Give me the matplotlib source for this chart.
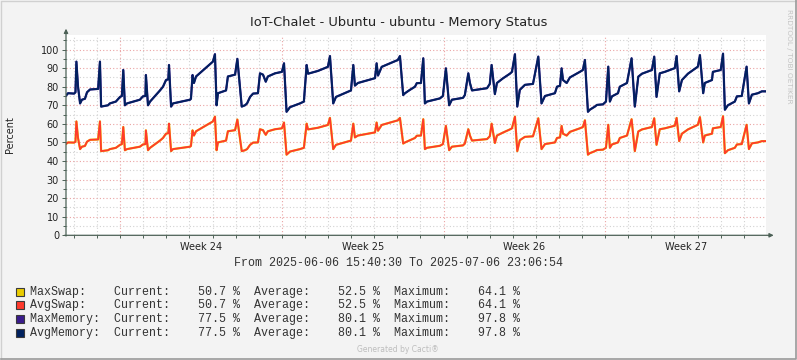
import datetime as dt
import matplotlib
matplotlib.use('Agg')
import matplotlib.pyplot as plt
from matplotlib.lines import Line2D
from matplotlib.patches import Rectangle

# --- data ---
start = dt.datetime(2025, 6, 6, 15, 40, 30)
end = dt.datetime(2025, 7, 6, 23, 6, 54)

# sample times in days since start
t_days = [0.00, 0.09, 0.35, 0.41, 0.45, 0.52, 0.61, 0.69, 0.82, 0.91,
          1.04, 1.39, 1.47, 1.52, 1.82, 1.90, 2.16, 2.34, 2.42, 2.48,
          2.55, 2.64, 3.20, 3.33, 3.44, 3.46, 3.55, 3.64, 4.07, 4.20,
          4.33, 4.43, 4.46, 4.55, 4.63, 5.37, 5.41, 5.48, 5.54, 5.63,
          6.36, 6.45, 6.52, 6.58, 6.93, 7.01, 7.32, 7.42, 7.61, 7.75,
          7.84, 7.97, 8.10, 8.31, 8.40, 8.53, 8.65, 8.74, 9.05, 9.35,
          9.44, 9.55, 9.70, 10.13, 10.30, 10.42, 10.48, 10.91, 11.34, 11.43,
          11.57, 11.69, 12.34, 12.44, 12.51, 12.64, 13.38, 13.45, 13.51, 13.67,
          14.37, 14.46, 14.60, 14.68, 14.89, 15.11, 15.19, 15.37, 15.47, 15.54,
          15.63, 16.19, 16.32, 16.45, 16.59, 16.71, 17.19, 17.27, 17.42, 17.49,
          17.58, 18.23, 18.35, 18.43, 18.57, 18.66, 18.92, 19.22, 19.31, 19.44,
          19.54, 19.65, 19.87, 20.22, 20.45, 20.59, 20.74, 21.17, 21.26, 21.39,
          21.46, 21.52, 21.68, 21.82, 22.25, 22.38, 22.47, 22.60, 22.68, 22.90,
          22.99, 23.25, 23.38, 23.48, 23.55, 23.64, 23.90, 23.98, 24.29, 24.49,
          24.63, 24.78, 24.94, 25.37, 25.47, 25.57, 25.71, 25.93, 26.36, 26.44,
          26.55, 26.67, 26.93, 27.36, 27.45, 27.59, 27.66, 27.97, 28.01, 28.35,
          28.45, 28.53, 28.66, 28.96, 29.05, 29.26, 29.47, 29.57, 29.70, 29.96,
          30.13, 30.31]

avg_memory = [75.2, 76.5, 76.3, 77.0, 93.5, 80.0, 71.0, 73.0, 73.5, 77.0,
              78.5, 78.8, 93.5, 69.3, 70.0, 71.0, 72.0, 74.5, 75.0, 89.0,
              70.0, 71.0, 73.0, 74.8, 75.0, 86.3, 70.0, 72.0, 78.0, 80.0,
              83.6, 84.0, 91.7, 69.3, 71.0, 73.0, 73.5, 86.3, 82.0, 85.5,
              93.5, 97.5, 70.0, 76.5, 78.0, 85.5, 86.5, 95.0, 69.3, 70.0,
              71.0, 74.5, 76.3, 76.5, 87.2, 86.5, 82.7, 85.5, 87.2, 88.0,
              92.6, 66.5, 69.0, 71.0, 72.0, 91.7, 87.0, 88.5, 90.7, 96.5,
              71.0, 74.5, 78.0, 91.7, 80.6, 82.0, 84.6, 92.6, 86.0, 90.7,
              94.4, 96.5, 75.5, 76.5, 78.3, 80.0, 81.9, 82.0, 95.3, 71.0,
              72.0, 73.7, 75.0, 89.9, 70.0, 73.0, 74.0, 75.5, 87.2, 82.0,
              78.0, 79.2, 81.5, 91.7, 76.0, 82.0, 84.5, 87.0, 88.0, 97.5,
              69.3, 78.3, 81.0, 81.5, 96.2, 71.0, 75.0, 76.5, 80.0, 80.5,
              89.9, 83.6, 82.0, 85.0, 88.0, 89.0, 94.4, 66.5, 67.6, 69.3,
              70.2, 70.5, 72.0, 90.8, 72.0, 74.8, 76.5, 80.0, 82.0, 95.3,
              69.3, 85.4, 87.0, 89.0, 96.2, 74.5, 87.2, 88.0, 90.0, 96.5,
              77.5, 83.6, 87.0, 90.8, 97.0, 76.5, 82.0, 83.6, 88.0, 89.0,
              97.8, 67.6, 70.0, 72.0, 74.8, 75.0, 90.8, 71.0, 75.7, 76.5,
              77.5, 77.5]

avg_swap = [49.2, 50.0, 49.9, 50.4, 61.3, 52.4, 46.4, 47.7, 48.1, 50.4,
            51.4, 51.6, 61.3, 45.3, 45.8, 46.4, 47.1, 48.7, 49.1, 58.3,
            45.8, 46.4, 47.7, 48.9, 49.1, 56.5, 45.8, 47.1, 51.0, 52.4,
            54.7, 55.0, 60.1, 45.3, 46.4, 47.7, 48.1, 56.5, 53.7, 56.0,
            61.3, 63.9, 45.8, 50.0, 51.0, 56.0, 56.6, 62.3, 45.3, 45.8,
            46.4, 48.7, 49.9, 50.0, 57.1, 56.6, 54.1, 56.0, 57.1, 57.6,
            60.7, 43.4, 45.1, 46.4, 47.1, 60.1, 57.0, 57.9, 59.4, 63.2,
            46.4, 48.7, 51.0, 60.1, 52.7, 53.7, 55.4, 60.7, 56.3, 59.4,
            61.9, 63.2, 49.4, 50.0, 51.2, 52.4, 53.6, 53.7, 62.5, 46.4,
            47.1, 48.2, 49.1, 58.9, 45.8, 47.7, 48.4, 49.4, 57.1, 53.7,
            51.0, 51.8, 53.3, 60.1, 49.7, 53.7, 55.3, 57.0, 57.6, 63.9,
            45.3, 51.2, 53.0, 53.3, 63.0, 46.4, 49.1, 50.0, 52.4, 52.7,
            58.9, 54.7, 53.7, 55.7, 57.6, 58.3, 61.9, 43.4, 44.2, 45.3,
            45.9, 46.1, 47.1, 59.5, 47.1, 48.9, 50.0, 52.4, 53.7, 62.5,
            45.3, 55.9, 57.0, 58.3, 63.0, 48.7, 57.1, 57.6, 59.0, 63.2,
            50.7, 54.7, 57.0, 59.5, 63.6, 50.0, 53.7, 54.7, 57.6, 58.3,
            64.1, 44.2, 45.8, 47.1, 48.9, 49.1, 59.5, 46.4, 49.5, 50.0,
            50.7, 50.7]

# max series equal the averages over this period
max_memory = avg_memory
max_swap = avg_swap

series_names = ['MaxSwap:', 'AvgSwap:', 'MaxMemory:', 'AvgMemory:']
series_current = [50.7, 50.7, 77.5, 77.5]
series_average = [52.5, 52.5, 80.1, 80.1]
series_maximum = [64.1, 64.1, 97.8, 97.8]
series_colors = ['#EACC00', '#FF3A2C', '#3A1C8C', '#00215E']

week_numbers = [24, 25, 26, 27]
title = 'IoT-Chalet - Ubuntu - ubuntu - Memory Status'

# --- figure ---
W, H = 797, 360
bg = '#f3f3f3'
axis_c = '#4c6156'
minor_c = '#d2d2d2'
major_c = '#eaa3a3'
text_c = '#222222'

fig = plt.figure(figsize=(W / 100, H / 100), dpi=100, facecolor=bg)
ax = fig.add_axes([66 / W, 1 - 235.3 / H, 700 / W, 200.6 / H])
ax.set_facecolor('white')

total_days = (end - start).total_seconds() / 86400
ax.set_xlim(0, total_days)
ax.set_ylim(0, 108)

# grid: daily / weekly verticals, 5 / 10 horizontals
first_midnight = dt.datetime(2025, 6, 7)
day_lines = []
d = first_midnight
while d < end:
    day_lines.append((d - start).total_seconds() / 86400)
    d += dt.timedelta(days=1)
week_starts = [dt.datetime.fromisocalendar(2025, w, 1) for w in week_numbers]
week_lines = [(w - start).total_seconds() / 86400 for w in week_starts]
week_mids = [x + 3.5 for x in week_lines]

dots = (0, (1, 2))
for x in day_lines:
    if x not in week_lines:
        ax.axvline(x, color=minor_c, ls=dots, lw=0.8, zorder=0.5)
for x in week_lines:
    ax.axvline(x, color=major_c, ls=dots, lw=0.8, zorder=0.6)
for yv in range(5, 106, 5):
    c = major_c if yv % 10 == 0 else minor_c
    ax.axhline(yv, color=c, ls=dots, lw=0.8, zorder=0.5)

# series
ax.plot(t_days, max_swap, color=series_colors[0], lw=1.6, zorder=2)
ax.plot(t_days, avg_swap, color=series_colors[1], lw=1.3, zorder=3)
ax.plot(t_days, max_memory, color=series_colors[2], lw=1.6, zorder=2)
ax.plot(t_days, avg_memory, color=series_colors[3], lw=1.3, zorder=3)

# axes, ticks
for s in ax.spines.values():
    s.set_visible(False)
ax.set_yticks(range(0, 101, 10))
ax.set_yticks(range(5, 106, 5), minor=True)
ax.set_xticks(week_mids)
ax.set_xticklabels([f'Week {w}' for w in week_numbers])
ax.set_xticks(day_lines, minor=True)
ax.tick_params(axis='y', which='major', length=3, width=0.7, color=axis_c,
               labelsize=7, labelcolor=text_c, pad=2)
ax.tick_params(axis='y', which='minor', length=2, width=0.7, color=axis_c)
ax.tick_params(axis='x', which='major', length=0, labelsize=7,
               labelcolor=text_c, pad=5)
ax.tick_params(axis='x', which='minor', length=2, width=0.7, color=axis_c)

arrow = dict(arrowstyle='-|>', color=axis_c, lw=0.9, mutation_scale=6,
             shrinkA=0, shrinkB=0)
ax.annotate('', xy=(1.011, 0), xytext=(-0.002, 0), xycoords='axes fraction',
            arrowprops=arrow, annotation_clip=False)
ax.annotate('', xy=(0, 1.03), xytext=(0, -0.004), xycoords='axes fraction',
            arrowprops=arrow, annotation_clip=False)

# --- texts ---
fig.text(0.5, 1 - 22.5 / H, title, ha='center', va='center', fontsize=9.4,
         color=text_c)
fig.text(10 / W, 1 - 135 / H, 'Percent', rotation=90, ha='center',
         va='center', fontsize=7, color=text_c)
fig.text(789 / W, 1 - 56 / H, 'RRDTOOL / TOBI OETIKER', rotation=-90,
         ha='center', va='center', fontsize=5.3, color='#c4c4c4')

mono = 'Liberation Mono'
fig.text(398 / W, 1 - 263 / H,
         f"From {start:%Y-%m-%d %H:%M:%S} To {end:%Y-%m-%d %H:%M:%S}",
         ha='center', va='center', fontsize=8.4, family=mono, color='#333333')

row_y = [291.5, 305.3, 319.2, 333.0]
for name, cur, avg, mx, col, y in zip(series_names, series_current,
                                      series_average, series_maximum,
                                      series_colors, row_y):
    fig.add_artist(Rectangle((16 / W, 1 - (y + 4) / H), 8 / W, 8 / H,
                             transform=fig.transFigure, facecolor=col,
                             edgecolor='#3a3a3a', lw=0.8))
    line = f"{name:<12}Current:{cur:8.1f} %  Average:{avg:8.1f} %  Maximum:{mx:8.1f} %"
    fig.text(30 / W, 1 - y / H, line, ha='left', va='center', fontsize=8.4,
             family=mono, color='#333333')

fig.text(398 / W, 1 - 349 / H, 'Generated by Cacti®', ha='center',
         va='center', fontsize=5.5, color='#bdbdbd')

# frame
fig.add_artist(Line2D([0.5 / W, 0.5 / W, 1 - 0.5 / W], [0, 1 - 0.5 / H, 1 - 0.5 / H],
                      transform=fig.transFigure, color='#d0d0d0', lw=1))
fig.add_artist(Line2D([0.5 / W, 1 - 1 / W, 1 - 1 / W], [1 / H, 1 / H, 1],
                      transform=fig.transFigure, color='#9a9a9a', lw=1.2))

fig.savefig('out.png', dpi=100, facecolor=bg)
